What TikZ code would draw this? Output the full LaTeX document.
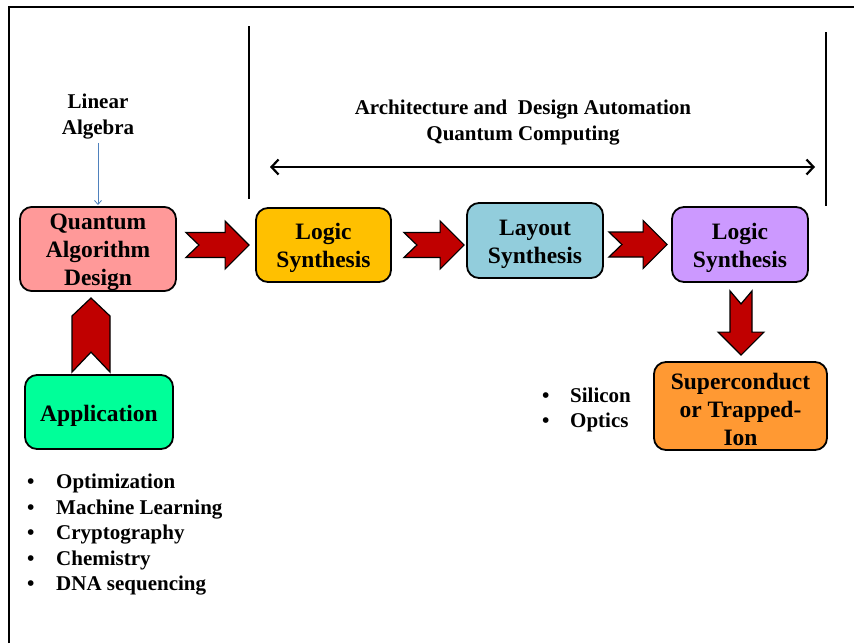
\documentclass[tikz,border=0pt]{standalone}
\usepackage{fontspec}
\setmainfont{Liberation Serif}
\usetikzlibrary{arrows.meta,calc}
\definecolor{qadpink}{HTML}{FF9999}
\definecolor{appgreen}{HTML}{00FF99}
\definecolor{lsyellow}{HTML}{FFC000}
\definecolor{layblue}{HTML}{92CDDC}
\definecolor{lspurple}{HTML}{CC99FF}
\definecolor{suporange}{HTML}{FF9933}
\definecolor{arrred}{HTML}{C00000}
\definecolor{thinblue}{HTML}{4F81BD}
\newcommand\firstline{\rule{0pt}{23pt}}
\newcommand\harrowpath[2]{\path[blkarrow] let \p1=#1, \p2=#2 in
  (\x1,\y2+12.5pt) -- (\x2-24pt,\y2+12.5pt) -- (\x2-24pt,\y2+24pt) -- (\x2,\y2)
  -- (\x2-24pt,\y2-24pt) -- (\x2-24pt,\y2-12.5pt) -- (\x1,\y2-12.5pt) -- (\x1+13pt,\y2) -- cycle;}
\newcommand\varrowdown[2]{\path[blkarrow] let \p1=#1, \p2=#2 in
  (\x1-11pt,\y1) -- (\x1-11pt,\y2+23pt) -- (\x1-23pt,\y2+23pt) -- (\x1,\y2)
  -- (\x1+23pt,\y2+23pt) -- (\x1+11pt,\y2+23pt) -- (\x1+11pt,\y1) -- (\x1,\y1-13pt) -- cycle;}
\newcommand\chevup[2]{\path[blkarrow] let \p1=#1, \p2=#2 in
  (\x1-19pt,\y1) -- (\x1-19pt,\y2-18pt) -- (\x1,\y2) -- (\x1+19pt,\y2-18pt)
  -- (\x1+19pt,\y1) -- (\x1,\y1+20pt) -- cycle;}
\begin{document}
\begin{tikzpicture}[x=1pt,y=-1pt,
  box/.style={draw=black, line width=1.8pt, rounded corners=12pt, align=center,
    font=\fontsize{23.5}{28}\selectfont\bfseries, inner sep=0pt},
  blkarrow/.style={fill=arrred, draw=black, line width=1.2pt, line join=miter},
  label/.style={align=center, font=\fontsize{21}{26}\selectfont\bfseries, inner sep=0pt},
  bullets/.style={align=left, font=\fontsize{21}{25.5}\selectfont\bfseries, inner sep=0pt, anchor=west},
  frame/.style={line width=2pt, black},
  sep/.style={line width=2pt, black}]
\useasboundingbox (0,0) rectangle (854,643);
% frame
\coordinate (fbl) at (9,643);
\coordinate (ftl) at (9,7);
\coordinate (ftr) at (854,7);
\draw[frame] (fbl) -- (ftl) -- (ftr);
% separators
\coordinate (s1a) at (249,26);
\coordinate (s1b) at (249,199);
\coordinate (s2a) at (826,32);
\coordinate (s2b) at (826,206);
\draw[sep] (s1a) -- (s1b);
\draw[sep] (s2a) -- (s2b);
% span arrow
\coordinate (spl) at (270,167);
\coordinate (spr) at (815,167);
\draw[line width=2.2pt, {Straight Barb[length=7pt,width=15pt]}-{Straight Barb[length=7pt,width=15pt]}] (spl) -- (spr);
% labels
\node[label] (arch) at (523,123) {Architecture and \ Design Automation\\Quantum Computing};
\node[label] (lin) at (98,117) {Linear\\Algebra};
% boxes
\node[box, fill=qadpink, minimum width=156pt, minimum height=84pt] (qad) at (98,249) {\firstline Quantum\\Algorithm\\Design};
\node[box, fill=appgreen, minimum width=148pt, minimum height=74pt] (app) at (99,412) {\firstline Application};
\node[box, fill=lsyellow, minimum width=135pt, minimum height=74pt] (ls1) at (323.5,245) {\firstline Logic\\Synthesis};
\node[box, fill=layblue, minimum width=136pt, minimum height=75pt] (lay) at (535,240.5) {\firstline Layout\\Synthesis};
\node[box, fill=lspurple, minimum width=136pt, minimum height=75pt] (ls2) at (740,244.5) {\firstline Logic\\Synthesis};
\node[box, fill=suporange, minimum width=173pt, minimum height=88pt] (sup) at (740.5,406) {\firstline Superconduct\\or Trapped-\\Ion};
% thin blue arrow
\draw[thinblue, line width=0.8pt, -{Straight Barb[length=4pt,width=7pt]}, shorten <=3pt, shorten >=1pt] (lin.south) -- (qad.north);
% block arrows
\harrowpath{($(qad.east)+(9,0)$)}{($(ls1.west)+(-6,0)$)}
\harrowpath{($(ls1.east)+(12,0)$)}{($(lay.west)+(-2,4.5)$)}
\harrowpath{($(lay.east)+(5,0)$)}{($(ls2.west)+(-4,0)$)}
\chevup{($(app.north)+(-8,-2)$)}{($(qad.south)+(-7,6)$)}
\varrowdown{($(ls2.south)+(1,8)$)}{($(sup.north)+(0.5,-6)$)}
% bullet lists
\node[bullets] (apps) at (27,535) {\makebox[29pt][l]{•}Optimization\\\makebox[29pt][l]{•}Machine Learning\\\makebox[29pt][l]{•}Cryptography\\\makebox[29pt][l]{•}Chemistry\\\makebox[29pt][l]{•}DNA sequencing};
\node[bullets] (tech) at (542,410) {\makebox[28pt][l]{•}Silicon\\\makebox[28pt][l]{•}Optics};
\end{tikzpicture}
\end{document}
